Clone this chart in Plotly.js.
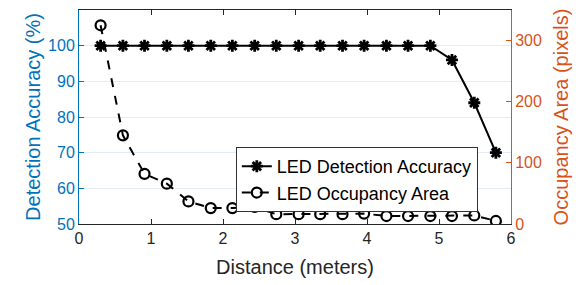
<!DOCTYPE html>
<html>
<head>
<meta charset="utf-8">
<script src="https://cdn.plot.ly/plotly-3.0.1.min.js"></script>
<style>html,body{margin:0;padding:0;background:#fff;}#chart{width:581px;height:285px;}</style>
</head>
<body>
<div id="chart"></div>
<script>
const distance = [0.30,0.61,0.91,1.22,1.52,1.83,2.13,2.44,2.74,3.05,3.35,3.66,3.96,4.27,4.57,4.88,5.18,5.49,5.79];
const accuracy = [100,100,100,100,100,100,100,100,100,100,100,100,100,100,100,100,96,84,70];
const occupancy = [325,145,82,66,37,26,26,28,16,16,16,16,17,13,13,13,13,14,5];
const xTicks = [0,1,2,3,4,5,6];
const leftTicks = [50,60,70,80,90,100];
const rightTicks = [0,100,200,300];

const blue = '#0072BD', orange = '#D95319', dark = '#262626';
const font = 'Liberation Sans, Arial, Helvetica, sans-serif';

const traces = [
  {x: distance, y: accuracy, name: 'LED Detection Accuracy', type: 'scatter', mode: 'lines+markers',
   line: {color: '#000', width: 2}, marker: {symbol: 'asterisk-open', size: 10, color: '#000', line: {color: '#000', width: 2.8}}, yaxis: 'y'},
  {x: distance, y: occupancy, name: 'LED Occupancy Area', type: 'scatter', mode: 'lines+markers',
   line: {color: '#000', width: 2, dash: 'dash'}, marker: {symbol: 'circle-open', size: 10, color: '#000', line: {color: '#000', width: 2.2}}, yaxis: 'y2'}
];

const layout = {
  width: 581, height: 285,
  margin: {l: 79, r: 70, t: 10, b: 61},
  paper_bgcolor: '#fff', plot_bgcolor: '#fff',
  font: {family: font, size: 16, color: dark},
  showlegend: true,
  legend: {x: 0.363, y: 0.36, xanchor: 'left', yanchor: 'top', bgcolor: '#fff', bordercolor: '#333', borderwidth: 1,
           font: {family: font, size: 18, color: '#000'}, tracegroupgap: 0, itemwidth: 30},
  xaxis: {range: [0, 6], tickvals: xTicks, ticktext: xTicks.map(String), ticks: 'inside', ticklen: 5, tickcolor: dark,
          showline: true, linecolor: dark, linewidth: 1, mirror: 'ticks', showgrid: false, zeroline: false,
          tickfont: {size: 16, color: dark}, title: {text: 'Distance (meters)', font: {size: 20, color: dark}, standoff: 13}},
  yaxis: {range: [50, 110], tickvals: leftTicks, ticktext: leftTicks.map(String), ticks: 'inside', ticklen: 5, tickcolor: blue,
          showline: true, linecolor: blue, linewidth: 1, showgrid: true, gridcolor: '#e3ecf4', gridwidth: 1, zeroline: false,
          tickfont: {size: 16, color: blue}, title: {text: 'Detection Accuracy (%)', font: {size: 20, color: blue}, standoff: 2}},
  yaxis2: {range: [0, 350], tickvals: rightTicks, ticktext: rightTicks.map(String), overlaying: 'y', side: 'right',
           ticks: 'inside', ticklen: 5, tickcolor: orange, showline: true, linecolor: orange, linewidth: 1,
           showgrid: false, zeroline: false, tickfont: {size: 16, color: orange},
           title: {text: 'Occupancy Area (pixels)', font: {size: 20, color: orange}, standoff: 13}}
};

Plotly.newPlot('chart', traces, layout, {displayModeBar: false, staticPlot: true});
</script>
</body>
</html>
